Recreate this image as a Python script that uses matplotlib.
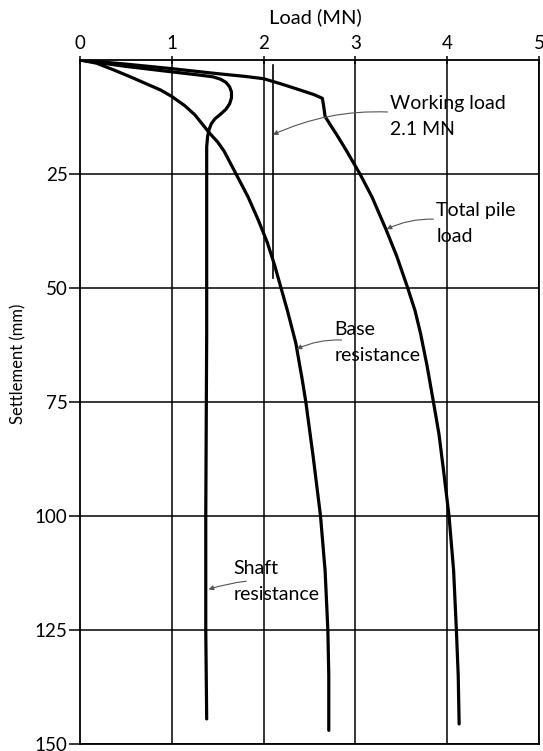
import matplotlib
matplotlib.use("Agg")
import matplotlib.pyplot as plt

plt.rcParams['font.family'] = ['Lato', 'DejaVu Sans']

# Total pile load curve: (load MN, settlement mm)
total_load = [0.0, 0.25, 0.5, 0.75, 1.0, 1.25, 1.5, 1.8, 2.0, 2.2, 2.4, 2.55,
              2.64, 2.655, 2.67, 2.72, 2.8, 2.9, 3.05, 3.18, 3.33, 3.45, 3.57,
              3.65, 3.71, 3.78, 3.85, 3.91, 3.96, 4.02, 4.07, 4.10, 4.12, 4.13]
total_settle = [0.0, 0.45, 0.9, 1.4, 1.9, 2.45, 3.0, 3.6, 4.1, 5.3, 6.6, 7.6,
                8.4, 10.2, 12.4, 14.0, 16.5, 19.8, 25.0, 30.0, 37.0, 43.0, 50.0,
                55.0, 60.0, 67.0, 75.0, 82.0, 90.0, 100.0, 112.0, 125.0, 135.0,
                145.6]

# Base resistance curve
base_load = [0.0, 0.18, 0.37, 0.55, 0.72, 0.88, 1.0, 1.14, 1.25, 1.33, 1.41,
             1.50, 1.57, 1.70, 1.83, 1.94, 2.04, 2.12, 2.19, 2.26, 2.35, 2.42,
             2.46, 2.54, 2.62, 2.67, 2.70, 2.71, 2.71]
base_settle = [0.0, 0.7, 2.2, 3.7, 5.2, 6.6, 8.0, 10.0, 12.0, 14.0, 16.0,
               18.0, 20.0, 25.0, 30.0, 35.0, 40.0, 45.0, 50.0, 55.0, 62.0, 70.0,
               75.0, 87.0, 100.0, 112.0, 125.0, 135.0, 147.0]

# Shaft resistance curve
shaft_load = [0.0, 0.5, 1.0, 1.3, 1.45, 1.53, 1.59, 1.63, 1.65, 1.65, 1.63,
              1.59, 1.53, 1.47, 1.43, 1.405, 1.39, 1.38, 1.38, 1.37, 1.37, 1.38]
shaft_settle = [0.0, 1.4, 2.6, 3.3, 3.7, 4.2, 4.9, 5.9, 7.0, 8.3, 9.6,
                10.8, 11.9, 12.9, 14.0, 15.3, 16.8, 19.0, 60.0, 100.0, 125.0,
                144.5]

# Working load marker
working_load = 2.1
working_settle = [1.0, 47.7]

x_ticks = [0, 1, 2, 3, 4, 5]
y_ticks = [25, 50, 75, 100, 125, 150]

fig = plt.figure(figsize=(5.43, 7.51), dpi=100)
ax = fig.add_axes([80 / 543, 1 - 744 / 751, 459 / 543, 684 / 751])

ax.set_xlim(0, 5)
ax.set_ylim(150, 0)

# grid
for gx in x_ticks[1:]:
    ax.axvline(gx, color='black', lw=1.1, zorder=1)
for gy in y_ticks:
    ax.axhline(gy, color='black', lw=1.1, zorder=1)

for s in ax.spines.values():
    s.set_linewidth(1.3)

ax.xaxis.tick_top()
ax.xaxis.set_label_position('top')
ax.set_xticks(x_ticks)
ax.set_xticklabels([str(v) for v in x_ticks])
ax.set_yticks(y_ticks)
ax.set_yticklabels([str(v) for v in y_ticks])
ax.tick_params(axis='x', direction='inout', length=6, width=1.1, pad=3,
               labelsize=13.5)
ax.tick_params(axis='y', direction='out', length=8, width=1.1, pad=1,
               labelsize=13.5)

ax.set_xlabel('Load (MN)', fontsize=14.5)
ax.xaxis.set_label_coords(0.512, 1.063)
ax.xaxis.label.set_va('center')
ax.set_ylabel('Settlement (mm)', fontsize=12)
ax.yaxis.set_label_coords(-0.135, 0.556)
ax.yaxis.label.set_va('center')

curve_kw = dict(color='black', lw=2.3, solid_capstyle='round',
                solid_joinstyle='round', zorder=3)
ax.plot(total_load, total_settle, **curve_kw)
ax.plot(base_load, base_settle, **curve_kw)
ax.plot(shaft_load, shaft_settle, **curve_kw)
ax.plot([working_load, working_load], working_settle, color='black', lw=1.2,
        zorder=2)

# labels with pointer arrows
label_kw = dict(fontsize=14, ha='left', va='center', linespacing=1.65, zorder=4)
arrow_kw = dict(arrowstyle='-|>', color='#555555', lw=0.8, mutation_scale=7,
                shrinkA=0, shrinkB=0)

ax.text(3.38, 12.3, 'Working load\n2.1 MN', **label_kw)
ax.annotate('', xy=(2.1, 16.4), xytext=(3.35, 11.4),
            arrowprops=dict(connectionstyle='arc3,rad=0.12', **arrow_kw))

ax.text(3.88, 35.8, 'Total pile\nload', **label_kw)
ax.annotate('', xy=(3.34, 37.1), xytext=(3.85, 34.9),
            arrowprops=dict(connectionstyle='arc3,rad=0.12', **arrow_kw))

ax.text(2.77, 61.9, 'Base\nresistance', **label_kw)
ax.annotate('', xy=(2.36, 63.4), xytext=(2.85, 61.4),
            arrowprops=dict(connectionstyle='arc3,rad=0.12', **arrow_kw))

ax.text(1.67, 114.3, 'Shaft\nresistance', **label_kw)
ax.annotate('', xy=(1.40, 116.1), xytext=(1.81, 114.3),
            arrowprops=dict(connectionstyle='arc3,rad=0.05', **arrow_kw))

fig.savefig('out.png', dpi=100)
